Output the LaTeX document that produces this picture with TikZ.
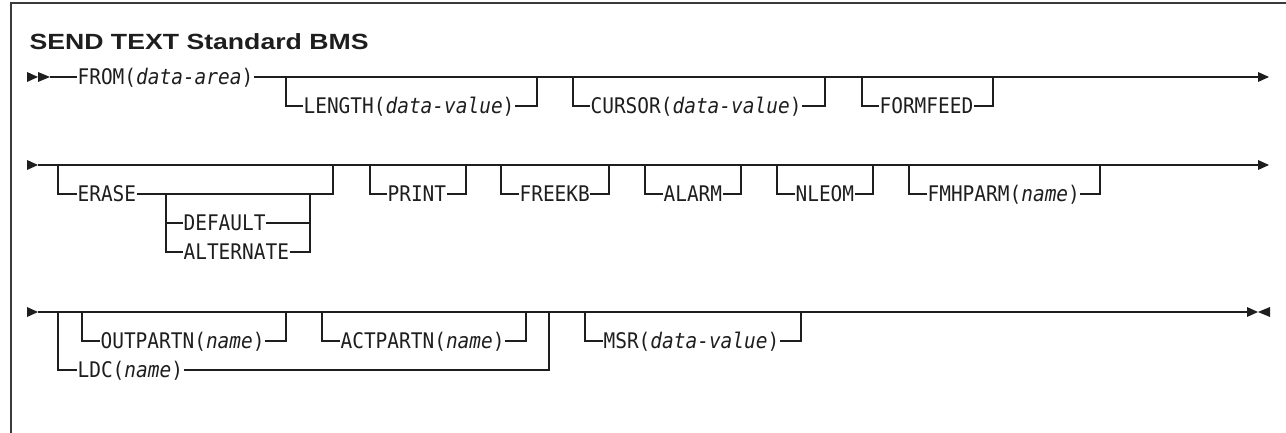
\documentclass[tikz,border=0pt]{standalone}
\usepackage{fontspec}
\usepackage{graphicx}
\newfontfamily\monof[FakeStretch=0.905]{DejaVu Sans Mono}
\newfontfamily\titlef{Liberation Sans}
\definecolor{ink}{HTML}{1E1E1E}
\definecolor{frame}{HTML}{3A3A3A}
\begin{document}
\begin{tikzpicture}[x=1pt,y=-1pt,line width=1.2pt,color=ink,
  lbl/.style={font=\monof\fontsize{21.5}{24}\selectfont,inner sep=0pt,text height=15.7pt,text depth=0pt,anchor=west},
  rail/.style={line width=1.2pt},
  framestyle/.style={line width=1.6pt,draw=frame}]
\useasboundingbox (0,0) rectangle (1286,433);
% frame
\coordinate (fbl) at (11,433);
\coordinate (ftl) at (11,3);
\coordinate (ftr) at (1286,3);
\draw[framestyle] (fbl) -- (ftl) -- (ftr);
% title
\node[anchor=base west,inner sep=0pt,font=\titlef\bfseries\fontsize{22}{26}\selectfont] (title) at (29,50) {\resizebox{339pt}{\height}{SEND TEXT Standard BMS}};

% ---------- row 1 ----------
\coordinate (s1) at (50,77);
\coordinate (e1) at (1258,77);
\fill (27,72) -- (38,77) -- (27,82) -- cycle;
\fill (38,72) -- (50,77) -- (38,82) -- cycle;
\fill (1258,72) -- (1269,77) -- (1258,82) -- cycle;
\node[lbl] (from) at (77,77) {FROM(\textit{data-area})};
\draw[rail] (s1) -- (from.west);
\draw[rail] (from.east) -- (e1);
\node[lbl] (len) at (303,106) {LENGTH(\textit{data-value})};
\draw[rail] (286,77) |- (len.west);
\draw[rail] (len.east) -| (537,77);
\node[lbl] (cur) at (590,106) {CURSOR(\textit{data-value})};
\draw[rail] (573,77) |- (cur.west);
\draw[rail] (cur.east) -| (825,77);
\node[lbl] (ff) at (879,106) {FORMFEED};
\draw[rail] (862,77) |- (ff.west);
\draw[rail] (ff.east) -| (993,77);

% ---------- row 2 ----------
\coordinate (s2) at (38,165);
\coordinate (e2) at (1258,165);
\fill (27,160) -- (38,165) -- (27,170) -- cycle;
\fill (1258,160) -- (1269,165) -- (1258,170) -- cycle;
\draw[rail] (s2) -- (e2);
\node[lbl] (erase) at (77,194) {ERASE};
\draw[rail] (58,165) |- (erase.west);
\draw[rail] (erase.east) -| (333,165);
\node[lbl] (def) at (183,223) {DEFAULT};
\node[lbl] (alt) at (183,252) {ALTERNATE};
\draw[rail] (166,194) |- (def.west);
\draw[rail] (166,194) |- (alt.west);
\draw[rail] (def.east) -| (310,194);
\draw[rail] (alt.east) -| (310,194);
\node[lbl] (print) at (387,194) {PRINT};
\draw[rail] (370,165) |- (print.west);
\draw[rail] (print.east) -| (466,165);
\node[lbl] (freekb) at (519,194) {FREEKB};
\draw[rail] (501,165) |- (freekb.west);
\draw[rail] (freekb.east) -| (609,165);
\node[lbl] (alarm) at (663,194) {ALARM};
\draw[rail] (645,165) |- (alarm.west);
\draw[rail] (alarm.east) -| (741,165);
\node[lbl] (nleom) at (795,194) {NLEOM};
\draw[rail] (777,165) |- (nleom.west);
\draw[rail] (nleom.east) -| (873,165);
\node[lbl] (fmh) at (927,194) {FMHPARM(\textit{name})};
\draw[rail] (909,165) |- (fmh.west);
\draw[rail] (fmh.east) -| (1100,165);

% ---------- row 3 ----------
\coordinate (s3) at (38,312);
\coordinate (e3) at (1247,312);
\fill (27,307) -- (38,312) -- (27,317) -- cycle;
\fill (1247,307) -- (1258,312) -- (1247,317) -- cycle;
\fill (1270,307) -- (1258,312) -- (1270,317) -- cycle;
\draw[rail] (s3) -- (e3);
\node[lbl] (ldc) at (77,370) {LDC(\textit{name})};
\draw[rail] (58,312) |- (ldc.west);
\draw[rail] (ldc.east) -| (549,312);
\node[lbl] (outp) at (100,341) {OUTPARTN(\textit{name})};
\draw[rail] (82,312) |- (outp.west);
\draw[rail] (outp.east) -| (286,312);
\node[lbl] (actp) at (340,341) {ACTPARTN(\textit{name})};
\draw[rail] (322,312) |- (actp.west);
\draw[rail] (actp.east) -| (526,312);
\node[lbl] (msr) at (603,341) {MSR(\textit{data-value})};
\draw[rail] (585,312) |- (msr.west);
\draw[rail] (msr.east) -| (801,312);
\end{tikzpicture}
\end{document}
